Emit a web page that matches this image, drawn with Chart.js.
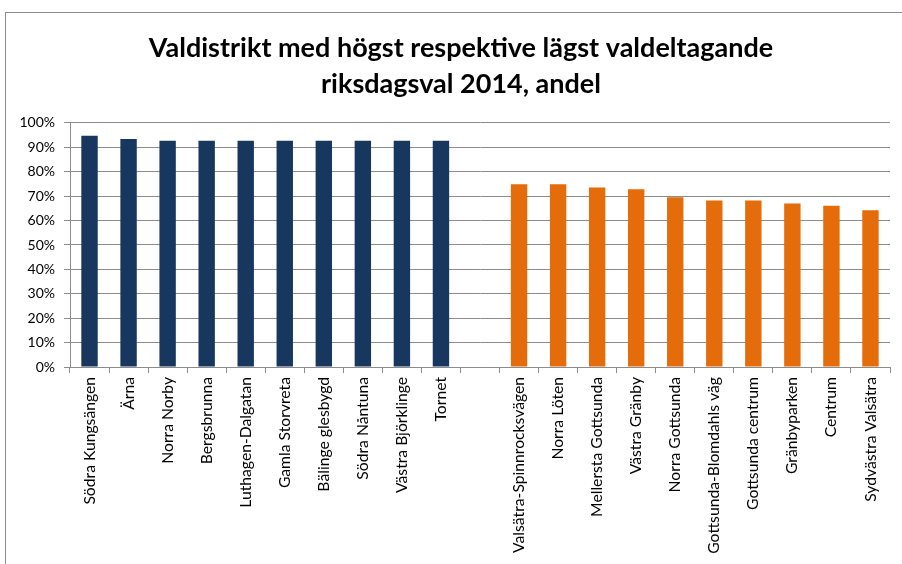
<!DOCTYPE html>
<html>
<head>
<meta charset="utf-8">
<script src="https://cdn.jsdelivr.net/npm/chart.js@4/dist/chart.umd.min.js"></script>
<style>
  html, body { margin: 0; padding: 0; background: #fff; overflow: hidden; }
  .frame {
    position: absolute; left: 5px; top: 12px;
    width: 1000px; height: 700px;
    border-left: 1px solid #8c8c8c; border-top: 1px solid #8c8c8c;
  }
  .chart-box { position: absolute; left: 0; top: 0; width: 896px; height: 600px; }
</style>
</head>
<body>
<div class="frame">
  <div class="chart-box"><canvas id="turnoutChart"></canvas></div>
</div>
<script>
const titleLines = ["Valdistrikt med högst respektive lägst valdeltagande", "riksdagsval 2014, andel"];

const highDistricts = ["Södra Kungsängen", "Ärna", "Norra Norby", "Bergsbrunna", "Luthagen-Dalgatan",
  "Gamla Storvreta", "Bälinge glesbygd", "Södra Nåntuna", "Västra Björklinge", "Tornet"];
const highTurnout = [94.8, 93.4, 92.7, 92.7, 92.7, 92.7, 92.7, 92.7, 92.7, 92.7];

const lowDistricts = ["Valsätra-Spinnrocksvägen", "Norra Löten", "Mellersta Gottsunda", "Västra Gränby",
  "Norra Gottsunda", "Gottsunda-Blomdahls väg", "Gottsunda centrum", "Gränbyparken", "Centrum", "Sydvästra Valsätra"];
const lowTurnout = [74.9, 74.9, 73.6, 72.8, 69.6, 68.2, 68.2, 67.0, 66.1, 64.2];

const yTicks = [0, 10, 20, 30, 40, 50, 60, 70, 80, 90, 100];

const highColor = "#17375E";
const lowColor = "#E46C0A";

// one empty slot between the two groups
const labels = [...highDistricts, "", ...lowDistricts];
const values = [...highTurnout, null, ...lowTurnout];
const colors = [
  ...highTurnout.map(() => highColor),
  "#fff",
  ...lowTurnout.map(() => lowColor),
];

// the title in the original sits a bit right of the canvas centre
const shiftTitle = {
  id: "shiftTitle",
  afterLayout(chart) {
    if (chart.titleBlock) chart.titleBlock.left += 26;
  },
};

const ctx = document.getElementById("turnoutChart").getContext("2d");

new Chart(ctx, {
  type: "bar",
  data: {
    labels: labels,
    datasets: [
      {
        label: "Valdeltagande",
        data: values,
        backgroundColor: colors,
        categoryPercentage: 1,
        barPercentage: 0.42,
      },
    ],
  },
  plugins: [shiftTitle],
  options: {
    responsive: true,
    maintainAspectRatio: false,
    animation: false,
    layout: { padding: { left: 0, right: 12, top: 0, bottom: 0 } },
    plugins: {
      legend: { display: false },
      tooltip: { enabled: false },
      title: {
        display: true,
        text: titleLines,
        color: "#000",
        font: { family: "Lato", size: 27, weight: "bold", lineHeight: 1.333 },
        padding: { top: 17, bottom: 21 },
      },
    },
    scales: {
      x: {
        grid: {
          offset: true,
          drawOnChartArea: false,
          drawTicks: true,
          tickLength: 6,
          color: "#8c8c8c",
        },
        border: { color: "#8c8c8c" },
        ticks: {
          autoSkip: false,
          maxRotation: 90,
          minRotation: 90,
          color: "#000",
          padding: 4,
          font: { family: "Lato", size: 15.7 },
        },
        afterFit: (scale) => { scale.height = 246; },
      },
      y: {
        min: 0,
        max: 100,
        afterBuildTicks: (scale) => { scale.ticks = yTicks.map((v) => ({ value: v })); },
        grid: { color: "#8c8c8c", tickLength: 6 },
        border: { color: "#8c8c8c" },
        ticks: {
          color: "#000",
          padding: 9,
          font: { family: "Lato", size: 14 },
          callback: (v) => v + "%",
        },
        afterFit: (scale) => { scale.width = 64; },
      },
    },
  },
});
</script>
</body>
</html>
